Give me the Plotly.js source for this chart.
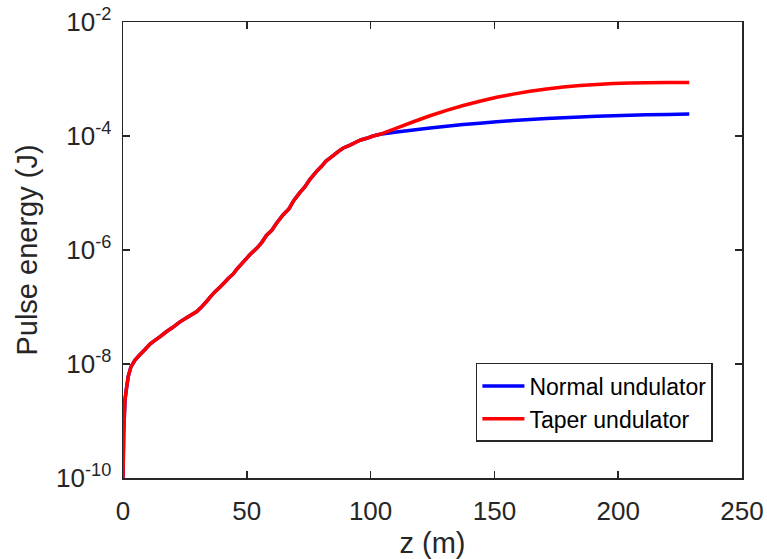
<!DOCTYPE html>
<html>
<head>
<meta charset="utf-8">
<script src="https://cdn.plot.ly/plotly-3.0.1.min.js"></script>
<style>html,body{margin:0;padding:0;background:#fff;}#chart{width:767px;height:559px;}</style>
</head>
<body>
<div id="chart"></div>
<script>
// Shared section (both undulators identical up to ~100 m)
var zCommon = [0, 0.3, 0.8, 1.5, 2.1, 3.2, 4.85, 7, 9, 10.9, 13, 15, 17.6, 20, 23, 26, 29.8, 31.5, 33.8, 35.1, 37, 39.2, 41, 42.5, 44.5, 45.9, 48, 51.3, 54, 56, 58, 60, 62, 64.7, 67, 69, 71.5, 73.5, 75.5, 78.2, 80, 82, 85, 87, 89, 91.7, 94, 96, 98.4, 101];
var logECommon = [-10, -9.2, -8.63, -8.4, -8.22, -8.05, -7.93, -7.83, -7.74, -7.65, -7.58, -7.52, -7.43, -7.36, -7.26, -7.18, -7.08, -7.01, -6.9, -6.83, -6.74, -6.65, -6.57, -6.50, -6.42, -6.34, -6.24, -6.08, -5.97, -5.87, -5.74, -5.66, -5.53, -5.38, -5.28, -5.13, -4.99, -4.89, -4.76, -4.62, -4.54, -4.44, -4.34, -4.27, -4.21, -4.16, -4.11, -4.07, -4.04, -4.00];
// Diverging section
var zTail = [103.8, 110.5, 117.3, 124, 130.7, 137.4, 144.1, 150.9, 157.6, 164.3, 171.1, 177.8, 184.6, 191.3, 198, 204.8, 211.5, 220, 228.7];
var logENormalTail = [-3.97, -3.93, -3.895, -3.86, -3.83, -3.80, -3.775, -3.75, -3.73, -3.71, -3.695, -3.68, -3.667, -3.655, -3.645, -3.636, -3.628, -3.621, -3.615];
var logETaperTail = [-3.97, -3.86, -3.75, -3.645, -3.55, -3.465, -3.39, -3.32, -3.265, -3.215, -3.175, -3.142, -3.115, -3.095, -3.08, -3.072, -3.067, -3.063, -3.06];

var yTickVals = [1e-10, 1e-8, 1e-6, 1e-4, 1e-2];
var yTickText = ['10<sup>-10</sup>', '10<sup>-8</sup>', '10<sup>-6</sup>', '10<sup>-4</sup>', '10<sup>-2</sup>'];
var xTickVals = [0, 50, 100, 150, 200, 250];

function toE(arr){ return arr.map(function(v){ return Math.pow(10, v); }); }
var zNormal = zCommon.concat(zTail);
var eNormal = toE(logECommon.concat(logENormalTail));
var zTaper = zCommon.concat(zTail);
var eTaper = toE(logECommon.concat(logETaperTail));

var axisColor = '#262626';
var font = 'Liberation Sans, Arial, sans-serif';

var data = [
  {x: zNormal, y: eNormal, type: 'scatter', mode: 'lines', name: 'Normal undulator',
   line: {color: '#0000ff', width: 3.5, simplify: false}},
  {x: zTaper, y: eTaper, type: 'scatter', mode: 'lines', name: 'Taper undulator',
   line: {color: '#ff0000', width: 3.5, simplify: false}}
];

var layout = {
  width: 767, height: 559,
  margin: {l: 123, r: 25, t: 22, b: 81},
  paper_bgcolor: '#fff', plot_bgcolor: '#fff',
  font: {family: font, color: '#262626', size: 24},
  showlegend: true,
  legend: {x: 0.953, y: 0.079, xanchor: 'right', yanchor: 'bottom',
           bgcolor: '#fff', bordercolor: axisColor, borderwidth: 1.5,
           font: {family: font, size: 23, color: '#000'},
           tracegroupgap: 0, itemwidth: 42},
  xaxis: {range: [0, 250], tickvals: xTickVals, ticks: 'inside', ticklen: 7, tickwidth: 1.5,
          tickcolor: axisColor, showline: true, linecolor: axisColor, linewidth: 1.5, mirror: 'ticks',
          showgrid: false, zeroline: false, ticklabelstandoff: 9,
          tickfont: {family: font, size: 26, color: '#262626'},
          title: {text: 'z (m)', font: {family: font, size: 29, color: '#262626'}, standoff: 10}},
  yaxis: {type: 'log', range: [-10, -2], tickvals: yTickVals, ticktext: yTickText,
          ticks: 'inside', ticklen: 7, tickwidth: 1.5, tickcolor: axisColor,
          showline: true, linecolor: axisColor, linewidth: 1.5, mirror: 'ticks',
          showgrid: false, zeroline: false, ticklabelstandoff: 5,
          tickfont: {family: font, size: 26, color: '#262626'},
          title: {text: 'Pulse energy (J)', font: {family: font, size: 29, color: '#262626'}, standoff: 10}}
};

Plotly.newPlot('chart', data, layout, {displayModeBar: false, staticPlot: true});
</script>
</body>
</html>
